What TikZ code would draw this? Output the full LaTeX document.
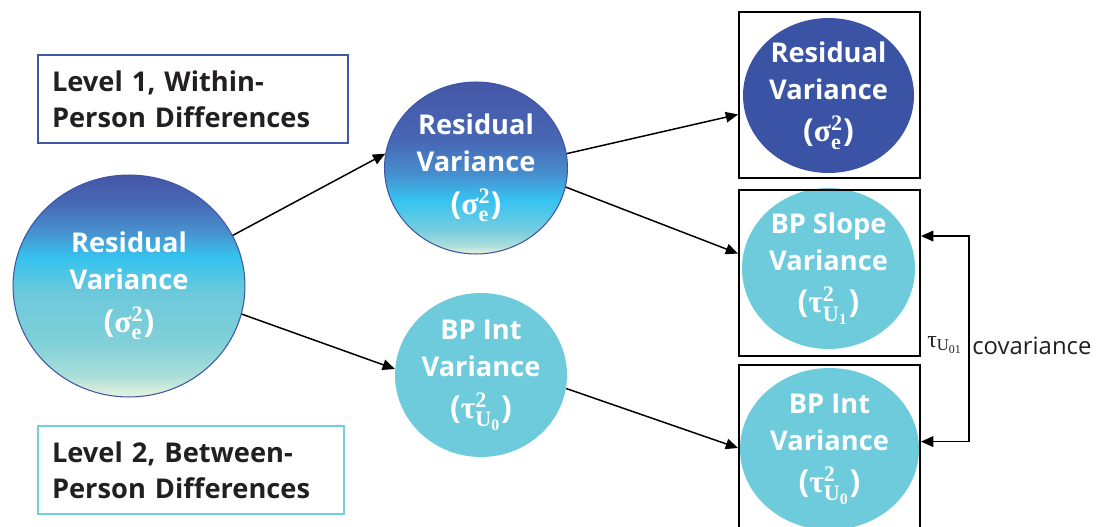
\documentclass[tikz,border=0pt]{standalone}
\usepackage{fontspec}
\setmainfont{Open Sans}
\newfontfamily\mathish{Liberation Serif}
\usepackage{amsmath,amssymb}
\usetikzlibrary{arrows.meta,shapes.geometric}
\definecolor{Deep}{HTML}{3A53A4}
\definecolor{Aqua}{HTML}{6DCBDC}
\definecolor{Edge}{HTML}{3F55A5}
\definecolor{LvlOne}{HTML}{3F57A6}
\definecolor{LvlTwo}{HTML}{72CEE0}
\definecolor{Ink}{HTML}{231F20}
% gradient stops, bottom to top
\definecolor{gA0}{HTML}{E9F3DF}
\definecolor{gA1}{HTML}{A8DDD9}
\definecolor{gA2}{HTML}{80D0D8}
\definecolor{gA3}{HTML}{6CC9DB}
\definecolor{gA4}{HTML}{35C2EF}
\definecolor{gA5}{HTML}{4793CF}
\definecolor{gA6}{HTML}{4767B5}
\definecolor{gA7}{HTML}{4557A6}
\definecolor{gB0}{HTML}{E8F2DB}
\definecolor{gB1}{HTML}{A9DEDB}
\definecolor{gB2}{HTML}{75CDE0}
\definecolor{gB3}{HTML}{36C3F0}
\definecolor{gB4}{HTML}{4690D0}
\definecolor{gB5}{HTML}{4767B5}
\definecolor{gB6}{HTML}{4557A6}
\pgfdeclareverticalshading{fadeA}{100bp}{color(0bp)=(gA0); color(25bp)=(gA0);
  color(30bp)=(gA1); color(37.4bp)=(gA2); color(48.5bp)=(gA3); color(56.5bp)=(gA4);
  color(62bp)=(gA5); color(69bp)=(gA6); color(75bp)=(gA7); color(100bp)=(gA7)}
\pgfdeclareverticalshading{fadeB}{100bp}{color(0bp)=(gB0); color(25bp)=(gB0);
  color(27.6bp)=(gB1); color(32bp)=(gB2); color(40.7bp)=(gB3); color(48bp)=(gB4);
  color(58bp)=(gB5); color(75bp)=(gB6); color(100bp)=(gB6)}
\newcommand{\gk}[1]{\text{\mathish #1}}
\newcommand{\sigE}{{\fontsize{18}{21}\selectfont($\gk{σ}^{\gk{2}}_{\gk{e}}$)}}
\newcommand{\tauU}[1]{{\fontsize{18}{21}\selectfont($\gk{τ}^{\gk{2}}_{\gk{U}_{\gk{#1}}}$)}}

\begin{document}
\begin{tikzpicture}[x=0.02cm,y=-0.02cm,
  >={Triangle[length=7pt,width=6pt]},
  var/.style={ellipse,inner sep=-4pt,align=center,text=white,
    font=\fontsize{15.5}{21}\selectfont\bfseries},
  lvl/.style={draw,line width=1.2pt,anchor=north west,inner xsep=0.28cm,
    minimum height=1.76cm,align=left,text=Ink,
    font=\fontsize{15.5}{20.4}\selectfont\bfseries},
  rbox/.style={draw,line width=1.1pt,minimum width=3.62cm,minimum height=3.32cm},
  link/.style={->,line width=0.85pt},
  lbl/.style={inner sep=0pt,text=Ink,font=\fontsize{13.6}{16}\selectfont}]
  \useasboundingbox (0,0) rectangle (1100,527);
  \clip (0,0) rectangle (1100,527);
  % level labels
  \node[lvl,draw=LvlOne,text width=5.64cm] (lvlone) at (37,54) {Level 1, Within-\\Person Differences};
  \node[lvl,draw=LvlTwo,text width=5.56cm] (lvltwo) at (37,425) {Level 2, Between-\\Person Differences};
  % variance components
  \node[var,minimum width=4.64cm,minimum height=4.44cm,shade,shading=fadeA,draw=Edge,line width=0.6pt]
    (tot) at (129,286) {Residual\\Variance\\[3pt]\sigE};
  \node[var,minimum width=3.66cm,minimum height=3.44cm,shade,shading=fadeB,draw=Edge,line width=0.6pt]
    (res) at (476,168) {Residual\\Variance\\[3pt]\sigE};
  \node[var,minimum width=3.44cm,minimum height=3.28cm,fill=Aqua] (int) at (481,375) {BP Int\\Variance\\[3pt]\tauU{0}};
  \node[var,minimum width=3.42cm,minimum height=3.1cm,fill=Deep] (resR) at (828.5,95.5) {Residual\\Variance\\[3pt]\sigE};
  \node[var,minimum width=3.46cm,minimum height=3.22cm,fill=Aqua] (slope) at (828.5,268.5) {BP Slope\\Variance\\[3pt]\tauU{1}};
  \node[var,minimum width=3.58cm,minimum height=3.24cm,fill=Aqua] (intR) at (829.5,449) {BP Int\\Variance\\[3pt]\tauU{0}};
  \foreach \n/\y in {1/95,2/273,3/448}
    \node[rbox] (box\n) at (829.5,\y) {};
  % arrows
  \draw[link] (tot.26) -- (res.171);
  \draw[link] (tot.-14) -- (int.176);
  \draw[link] (res.9) -- (box1.192);
  \draw[link] (res.-12) -- (box2.168);
  \draw[link] (int.-9) -- (box3.west);
  \draw[<->,line width=0.85pt] (box2.22) -- ++(48,0) |- (box3.4);
  \node[lbl,anchor=base east] (taulbl) at (963,347) {$\gk{τ}_{\gk{U}_{\gk{01}}}$};
  \node[lbl,anchor=base west] (covlbl) at (972,355) {covariance};
\end{tikzpicture}
\end{document}
